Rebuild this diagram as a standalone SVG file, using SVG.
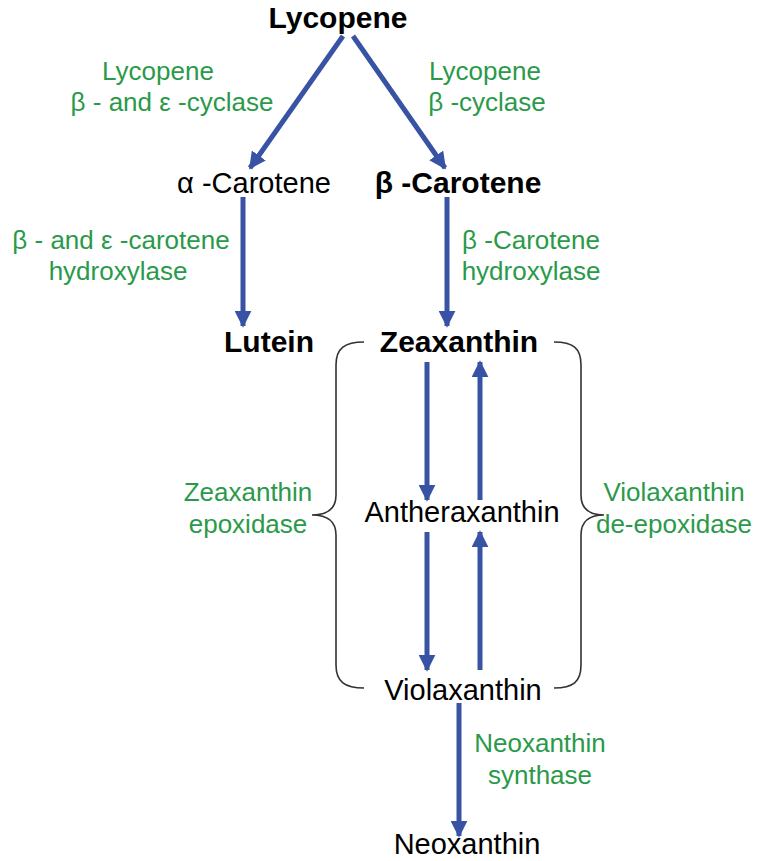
<svg xmlns="http://www.w3.org/2000/svg" width="767" height="861" viewBox="0 0 767 861">
<style>
text{font-family:"Liberation Sans",Arial,sans-serif;font-size:29px;text-anchor:middle;fill:#000}
.b{font-weight:bold;font-size:30px}
.g{fill:#2a9a4a;font-size:26px}
.a{stroke:#3953a4;stroke-width:5;fill:none;marker-end:url(#h)}
.br{stroke:#333;stroke-width:1.6;fill:none}
</style>
<defs><marker id="h" viewBox="0 0 10 10" refX="9" refY="5" markerWidth="3.4" markerHeight="3.4" orient="auto" markerUnits="strokeWidth"><path d="M0,0L10,5L0,10z" fill="#3953a4"/></marker></defs>
<rect width="767" height="861" fill="#fff"/>
<g id="connectors">
<line class="a" x1="343" y1="36" x2="250" y2="168"/>
<line class="a" x1="353" y1="36" x2="445" y2="168"/>
<line class="a" x1="243" y1="197" x2="243" y2="326"/>
<line class="a" x1="447" y1="197" x2="447" y2="326"/>
<line class="a" x1="427" y1="362" x2="427" y2="500"/>
<line class="a" x1="480" y1="500" x2="480" y2="362"/>
<line class="a" x1="427" y1="532" x2="427" y2="670"/>
<line class="a" x1="480" y1="670" x2="480" y2="532"/>
<line class="a" x1="459" y1="703" x2="459" y2="836"/>
<path class="br" d="M364,342 C345,342 336,348 336,365 L336,495 C336,508 328,515 312,515 C328,515 336,522 336,535 L336,665 C336,682 345,688 364,688"/>
<path class="br" d="M554,342 C573,342 581,348 581,365 L581,495 C581,508 589,515 604,515 C589,515 581,522 581,535 L581,665 C581,682 573,688 554,688"/>
</g>
<g id="lycopene"><text class="b" x="338" y="28">Lycopene</text></g>
<g id="alpha"><text x="254" y="193">α -Carotene</text></g>
<g id="beta"><text class="b" x="458" y="193">β -Carotene</text></g>
<g id="lutein"><text class="b" x="269" y="352">Lutein</text></g>
<g id="zeaxanthin"><text class="b" x="459" y="352">Zeaxanthin</text></g>
<g id="antheraxanthin"><text x="462" y="522">Antheraxanthin</text></g>
<g id="violaxanthin"><text x="463" y="700">Violaxanthin</text></g>
<g id="neoxanthin"><text x="467" y="854">Neoxanthin</text></g>
<g id="labels">
<text class="g" x="158" y="80">Lycopene</text>
<text class="g" x="172" y="111">β - and ε -cyclase</text>
<text class="g" x="485" y="80">Lycopene</text>
<text class="g" x="487" y="111">β -cyclase</text>
<text class="g" x="121" y="249">β - and  ε -carotene</text>
<text class="g" x="118" y="280">hydroxylase</text>
<text class="g" x="531" y="249">β -Carotene</text>
<text class="g" x="531" y="280">hydroxylase</text>
<text class="g" x="248" y="501">Zeaxanthin</text>
<text class="g" x="248" y="533">epoxidase</text>
<text class="g" x="674" y="501">Violaxanthin</text>
<text class="g" x="674" y="533">de-epoxidase</text>
<text class="g" x="540" y="752">Neoxanthin</text>
<text class="g" x="540" y="784">synthase</text>
</g>
</svg>
